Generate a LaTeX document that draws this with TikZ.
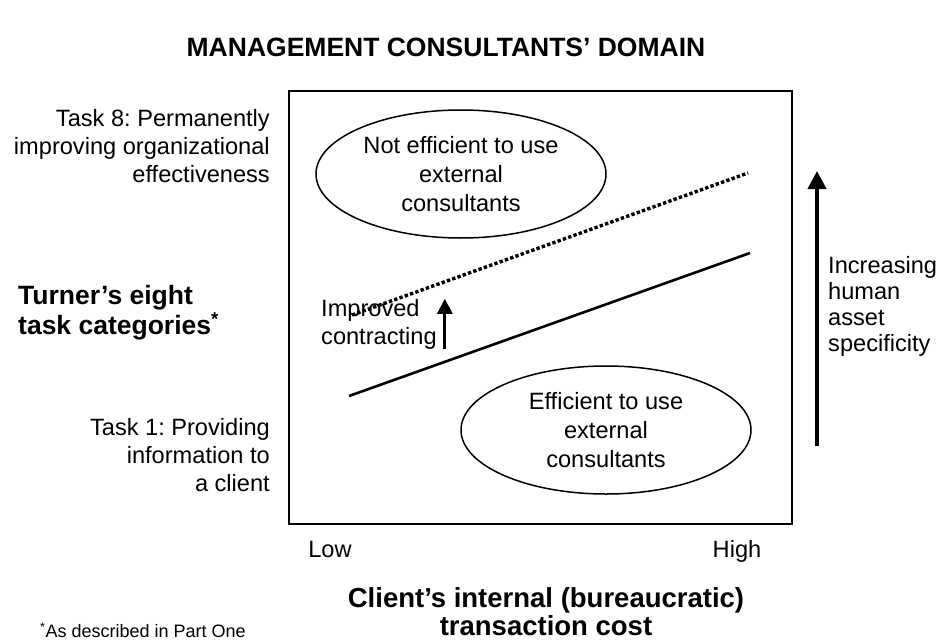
\documentclass[tikz,border=0pt]{standalone}
\usepackage{fontspec}
\setmainfont{Liberation Sans}
\usepackage{tikz}
\usetikzlibrary{shapes.geometric, arrows.meta, positioning}
\newcommand{\txtsize}{\fontsize{23.6}{28}\selectfont}
\newcommand{\headsize}{\fontsize{26.5}{30}\selectfont}
\frenchspacing

\begin{document}
\begin{tikzpicture}[
    x=1pt, y=-1pt,
    every node/.style={font=\txtsize, inner sep=0pt},
    heading/.style={font=\headsize\bfseries},
    axislabel/.style={font=\fontsize{27.5}{28}\selectfont\bfseries,
                      align=center},
    region/.style={ellipse, draw, line width=1.5pt, minimum width=290pt,
                   minimum height=128pt, align=center,
                   font=\fontsize{23.6}{29}\selectfont},
    boundary/.style={line width=2.6pt},
    raise/.style={-{Triangle[length=15pt, width=15pt]}, line width=3pt}
]
\useasboundingbox (0,0) rectangle (939,642);

\node[heading] (title) at (446,47) {MANAGEMENT CONSULTANTS’ DOMAIN};

% frame of the plot
\draw[line width=1.8pt] (289,91) rectangle (792,524);

\node[region] (noteff) at (461,174) {Not efficient to use\\external\\consultants};
\node[region] (eff) at (606,430) {Efficient to use\\external\\consultants};

% efficiency boundaries, before and after
\coordinate (old-lo) at (349,396);
\coordinate (old-hi) at (750,253);
\coordinate (new-lo) at (352,315);
\coordinate (new-hi) at (748,173);
\draw[boundary] (old-lo) -- (old-hi);
\draw[boundary, line width=3.4pt, dash pattern=on 3.4pt off 2.2pt] (new-lo) -- (new-hi);

\node[align=left, anchor=west] (contract) at (321,324) {Improved\\contracting};
\draw[raise] ([xshift=8pt]contract.south east) -- ([xshift=8pt]contract.north east);

% asset specificity axis
\coordinate (spec-lo) at (817,446);
\coordinate (spec-hi) at (817,171);
\draw[raise, line width=4pt, -{Triangle[length=18pt, width=18pt]}] (spec-lo) -- (spec-hi);
\node[align=left, anchor=west, font=\fontsize{23.6}{26}\selectfont] (spec) at (828,306)
     {Increasing\\human\\asset\\specificity};

% task axis
\node[align=right, anchor=east] (task8) at (270,146)
     {Task 8: Permanently\\improving organizational\\effectiveness};
\node[align=right, anchor=east] (task1) at (270,455)
     {Task 1: Providing\\information to\\a client};
\node[heading, align=left, anchor=west] (tasks) at (18,313)
     {Turner’s eight\\task categories\textsuperscript{*}};

% cost axis
\node[anchor=base] (low) at (330,557) {Low};
\node[anchor=base] (high) at (737,557) {High};
\node[axislabel] (cost) at (546,612) {Client’s internal (bureaucratic)\\transaction cost};

\node[font=\fontsize{18}{20}\selectfont, anchor=west] (note) at (40,630)
     {\textsuperscript{*}As described in Part One};

\end{tikzpicture}
\end{document}
